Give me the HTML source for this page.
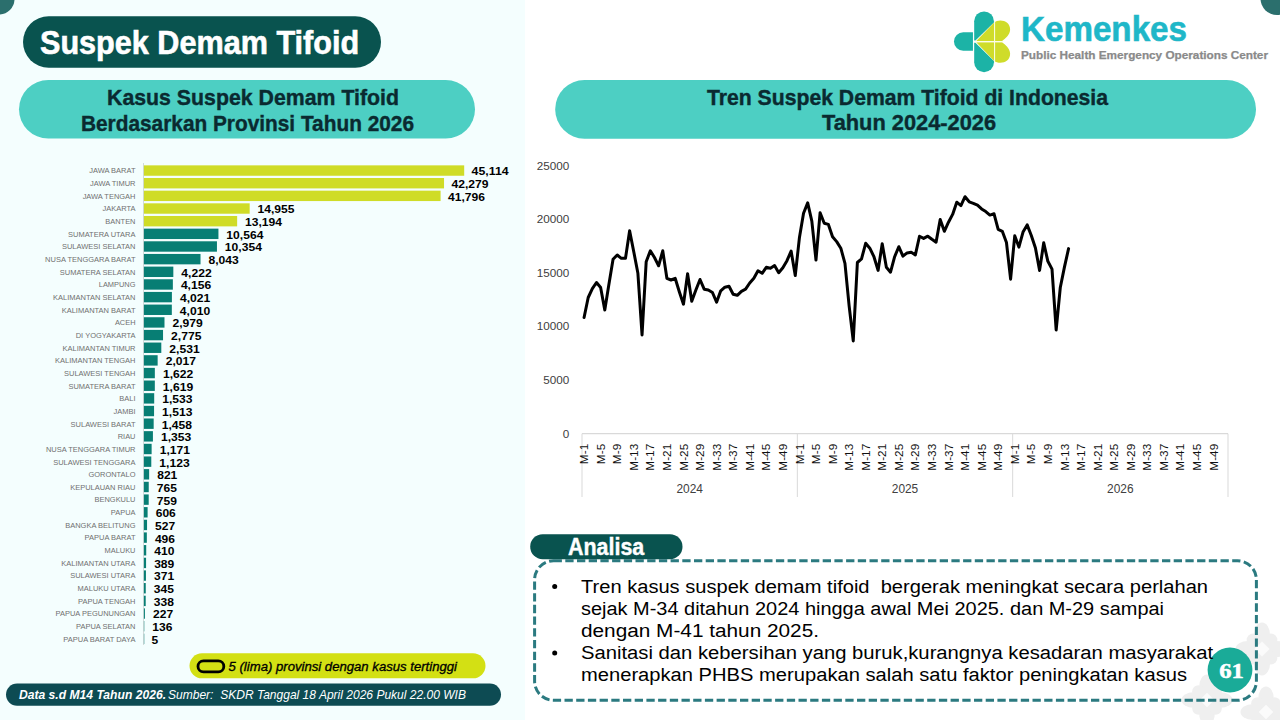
<!DOCTYPE html>
<html><head><meta charset="utf-8"><title>Suspek Demam Tifoid</title>
<style>
*{margin:0;padding:0}
html,body{width:1280px;height:720px;overflow:hidden;background:#fff}
svg{position:absolute;left:0;top:0;display:block}
</style></head><body>
<svg width="1280" height="720" viewBox="0 0 1280 720">
<rect x="0" y="0" width="525" height="720" fill="#f4fefe"/>
<circle cx="-1" cy="-1" r="15.5" fill="#2b6f6d"/>
<circle cx="1277" cy="-1.5" r="16.5" fill="#2b6f6d"/>
<g fill="#efefef"><ellipse cx="1262.0" cy="635.0" rx="8.1" ry="12.4"/><ellipse cx="1276.0" cy="649.0" rx="12.4" ry="8.1"/><ellipse cx="1262.0" cy="663.0" rx="8.1" ry="12.4"/><ellipse cx="1248.0" cy="649.0" rx="12.4" ry="8.1"/><circle cx="1270.9" cy="640.1" r="6.5"/><circle cx="1270.9" cy="657.9" r="6.5"/><circle cx="1253.1" cy="657.9" r="6.5"/><circle cx="1253.1" cy="640.1" r="6.5"/></g><path d="M1262,641.44 L1269.56,649 L1262,656.56 L1254.44,649 Z" fill="#fbfbfb"/><g fill="#efefef"><ellipse cx="1207.0" cy="686.5" rx="7.8" ry="12.0"/><ellipse cx="1220.5" cy="700.0" rx="12.0" ry="7.8"/><ellipse cx="1207.0" cy="713.5" rx="7.8" ry="12.0"/><ellipse cx="1193.5" cy="700.0" rx="12.0" ry="7.8"/><circle cx="1215.6" cy="691.4" r="6.2"/><circle cx="1215.6" cy="708.6" r="6.2"/><circle cx="1198.4" cy="708.6" r="6.2"/><circle cx="1198.4" cy="691.4" r="6.2"/></g><path d="M1207,692.72 L1214.28,700 L1207,707.28 L1199.72,700 Z" fill="#fbfbfb"/><g fill="#efefef"><ellipse cx="1266.0" cy="698.5" rx="7.8" ry="12.0"/><ellipse cx="1279.5" cy="712.0" rx="12.0" ry="7.8"/><ellipse cx="1266.0" cy="725.5" rx="7.8" ry="12.0"/><ellipse cx="1252.5" cy="712.0" rx="12.0" ry="7.8"/><circle cx="1274.6" cy="703.4" r="6.2"/><circle cx="1274.6" cy="720.6" r="6.2"/><circle cx="1257.4" cy="720.6" r="6.2"/><circle cx="1257.4" cy="703.4" r="6.2"/></g><path d="M1266,704.72 L1273.28,712 L1266,719.28 L1258.72,712 Z" fill="#fbfbfb"/>
<rect x="23" y="16.3" width="358" height="51.4" rx="25.7" fill="#09534f"/>
<text x="40.00" y="53.90" font-size="32.6" font-weight="bold" font-style="normal" fill="#fff" text-anchor="start" textLength="319.10" lengthAdjust="spacingAndGlyphs" font-family="&quot;Liberation Sans&quot;, Arial, sans-serif" stroke="#fff" stroke-width="0.6">Suspek Demam Tifoid</text>
<rect x="19" y="80" width="456" height="58.6" rx="29.3" fill="#4dcfc3"/>
<text x="107.00" y="104.70" font-size="22.6" font-weight="bold" font-style="normal" fill="#0a2a30" text-anchor="start" textLength="292.00" lengthAdjust="spacingAndGlyphs" font-family="&quot;Liberation Sans&quot;, Arial, sans-serif" stroke="#0a2a30" stroke-width="0.4">Kasus Suspek Demam Tifoid</text>
<text x="81.00" y="130.80" font-size="22.6" font-weight="bold" font-style="normal" fill="#0a2a30" text-anchor="start" textLength="333.00" lengthAdjust="spacingAndGlyphs" font-family="&quot;Liberation Sans&quot;, Arial, sans-serif" stroke="#0a2a30" stroke-width="0.4">Berdasarkan Provinsi Tahun 2026</text>
<rect x="555.2" y="80" width="700.8" height="58.7" rx="29.3" fill="#4dcfc3"/>
<text x="707.00" y="104.50" font-size="22.6" font-weight="bold" font-style="normal" fill="#0a2a30" text-anchor="start" textLength="401.00" lengthAdjust="spacingAndGlyphs" font-family="&quot;Liberation Sans&quot;, Arial, sans-serif" stroke="#0a2a30" stroke-width="0.4">Tren Suspek Demam Tifoid di Indonesia</text>
<text x="822.00" y="130.40" font-size="22.6" font-weight="bold" font-style="normal" fill="#0a2a30" text-anchor="start" textLength="174.00" lengthAdjust="spacingAndGlyphs" font-family="&quot;Liberation Sans&quot;, Arial, sans-serif" stroke="#0a2a30" stroke-width="0.4">Tahun 2024-2026</text>
<g transform="translate(945,5) scale(0.10417)">
 <path d="M268,262 H175 A89,89 0 0 0 175,440 H268 Z" fill="#1cb3a6"/>
 <path d="M280,157 A95,95 0 0 1 470,157 L470,168 L292,340 L280,340 Z" fill="#1cb3a6"/>
 <path d="M280,362 L292,362 L470,538 L470,550 A95,95 0 0 1 280,550 Z" fill="#1cb3a6"/>
 <path d="M300,346 L470,170 C520,128 628,150 625,238 C622,292 578,322 548,346 Z" fill="#cfdc2a"/>
 <path d="M300,358 L470,534 C520,576 628,554 625,466 C622,412 578,382 548,358 Z" fill="#cfdc2a"/>
 <line x1="476" y1="150" x2="476" y2="560" stroke="#fbfde8" stroke-width="10"/>
 <line x1="290" y1="352" x2="560" y2="352" stroke="#fbfde8" stroke-width="10"/>
</g>
<text x="1021.00" y="40.70" font-size="35" font-weight="bold" font-style="normal" fill="#1fb7c8" text-anchor="start" textLength="166.00" lengthAdjust="spacingAndGlyphs" font-family="&quot;Liberation Sans&quot;, Arial, sans-serif" stroke="#1fb7c8" stroke-width="0.6">Kemenkes</text>
<text x="1021.00" y="58.90" font-size="10.9" font-weight="bold" font-style="normal" fill="#8a8a8a" text-anchor="start" textLength="247.00" lengthAdjust="spacingAndGlyphs" font-family="&quot;Liberation Sans&quot;, Arial, sans-serif" stroke="#8a8a8a" stroke-width="0.25">Public Health Emergency Operations Center</text>
<line x1="143.5" y1="163" x2="143.5" y2="645" stroke="#c8d0d0" stroke-width="0.8"/>
<rect x="143.9" y="165.35" width="320.30" height="10.4" fill="#cfdc27"/>
<text x="135.50" y="173.40" font-size="8.0" font-weight="normal" font-style="normal" fill="#707070" text-anchor="end" textLength="46.27" lengthAdjust="spacingAndGlyphs" font-family="&quot;Liberation Sans&quot;, Arial, sans-serif">JAWA BARAT</text>
<text x="471.62" y="175.45" font-size="10.8" font-weight="bold" font-style="normal" fill="#000" text-anchor="start" textLength="37.00" lengthAdjust="spacingAndGlyphs" font-family="&quot;Liberation Sans&quot;, Arial, sans-serif">45,114</text>
<rect x="143.9" y="178.01" width="300.13" height="10.4" fill="#cfdc27"/>
<text x="135.50" y="186.06" font-size="8.0" font-weight="normal" font-style="normal" fill="#707070" text-anchor="end" textLength="45.47" lengthAdjust="spacingAndGlyphs" font-family="&quot;Liberation Sans&quot;, Arial, sans-serif">JAWA TIMUR</text>
<text x="451.50" y="188.11" font-size="10.8" font-weight="bold" font-style="normal" fill="#000" text-anchor="start" textLength="37.00" lengthAdjust="spacingAndGlyphs" font-family="&quot;Liberation Sans&quot;, Arial, sans-serif">42,279</text>
<rect x="143.9" y="190.66" width="296.69" height="10.4" fill="#cfdc27"/>
<text x="135.50" y="198.71" font-size="8.0" font-weight="normal" font-style="normal" fill="#707070" text-anchor="end" textLength="52.86" lengthAdjust="spacingAndGlyphs" font-family="&quot;Liberation Sans&quot;, Arial, sans-serif">JAWA TENGAH</text>
<text x="448.07" y="200.76" font-size="10.8" font-weight="bold" font-style="normal" fill="#000" text-anchor="start" textLength="37.00" lengthAdjust="spacingAndGlyphs" font-family="&quot;Liberation Sans&quot;, Arial, sans-serif">41,796</text>
<rect x="143.9" y="203.32" width="105.77" height="10.4" fill="#cfdc27"/>
<text x="135.50" y="211.37" font-size="8.0" font-weight="normal" font-style="normal" fill="#707070" text-anchor="end" textLength="32.89" lengthAdjust="spacingAndGlyphs" font-family="&quot;Liberation Sans&quot;, Arial, sans-serif">JAKARTA</text>
<text x="257.55" y="213.42" font-size="10.8" font-weight="bold" font-style="normal" fill="#000" text-anchor="start" textLength="37.00" lengthAdjust="spacingAndGlyphs" font-family="&quot;Liberation Sans&quot;, Arial, sans-serif">14,955</text>
<rect x="143.9" y="215.98" width="93.25" height="10.4" fill="#cfdc27"/>
<text x="135.50" y="224.03" font-size="8.0" font-weight="normal" font-style="normal" fill="#707070" text-anchor="end" textLength="30.16" lengthAdjust="spacingAndGlyphs" font-family="&quot;Liberation Sans&quot;, Arial, sans-serif">BANTEN</text>
<text x="245.05" y="226.08" font-size="10.8" font-weight="bold" font-style="normal" fill="#000" text-anchor="start" textLength="37.00" lengthAdjust="spacingAndGlyphs" font-family="&quot;Liberation Sans&quot;, Arial, sans-serif">13,194</text>
<rect x="143.9" y="228.64" width="74.54" height="10.4" fill="#077e74"/>
<text x="135.50" y="236.69" font-size="8.0" font-weight="normal" font-style="normal" fill="#707070" text-anchor="end" textLength="67.43" lengthAdjust="spacingAndGlyphs" font-family="&quot;Liberation Sans&quot;, Arial, sans-serif">SUMATERA UTARA</text>
<text x="226.38" y="238.74" font-size="10.8" font-weight="bold" font-style="normal" fill="#000" text-anchor="start" textLength="37.00" lengthAdjust="spacingAndGlyphs" font-family="&quot;Liberation Sans&quot;, Arial, sans-serif">10,564</text>
<rect x="143.9" y="241.29" width="73.05" height="10.4" fill="#077e74"/>
<text x="135.50" y="249.34" font-size="8.0" font-weight="normal" font-style="normal" fill="#707070" text-anchor="end" textLength="73.56" lengthAdjust="spacingAndGlyphs" font-family="&quot;Liberation Sans&quot;, Arial, sans-serif">SULAWESI SELATAN</text>
<text x="224.89" y="251.39" font-size="10.8" font-weight="bold" font-style="normal" fill="#000" text-anchor="start" textLength="37.00" lengthAdjust="spacingAndGlyphs" font-family="&quot;Liberation Sans&quot;, Arial, sans-serif">10,354</text>
<rect x="143.9" y="253.95" width="56.61" height="10.4" fill="#077e74"/>
<text x="135.50" y="262.00" font-size="8.0" font-weight="normal" font-style="normal" fill="#707070" text-anchor="end" textLength="90.41" lengthAdjust="spacingAndGlyphs" font-family="&quot;Liberation Sans&quot;, Arial, sans-serif">NUSA TENGGARA BARAT</text>
<text x="208.49" y="264.05" font-size="10.8" font-weight="bold" font-style="normal" fill="#000" text-anchor="start" textLength="30.30" lengthAdjust="spacingAndGlyphs" font-family="&quot;Liberation Sans&quot;, Arial, sans-serif">8,043</text>
<rect x="143.9" y="266.61" width="29.43" height="10.4" fill="#077e74"/>
<text x="135.50" y="274.66" font-size="8.0" font-weight="normal" font-style="normal" fill="#707070" text-anchor="end" textLength="75.69" lengthAdjust="spacingAndGlyphs" font-family="&quot;Liberation Sans&quot;, Arial, sans-serif">SUMATERA SELATAN</text>
<text x="181.37" y="276.71" font-size="10.8" font-weight="bold" font-style="normal" fill="#000" text-anchor="start" textLength="30.30" lengthAdjust="spacingAndGlyphs" font-family="&quot;Liberation Sans&quot;, Arial, sans-serif">4,222</text>
<rect x="143.9" y="279.26" width="28.96" height="10.4" fill="#077e74"/>
<text x="135.50" y="287.31" font-size="8.0" font-weight="normal" font-style="normal" fill="#707070" text-anchor="end" textLength="36.75" lengthAdjust="spacingAndGlyphs" font-family="&quot;Liberation Sans&quot;, Arial, sans-serif">LAMPUNG</text>
<text x="180.90" y="289.36" font-size="10.8" font-weight="bold" font-style="normal" fill="#000" text-anchor="start" textLength="30.30" lengthAdjust="spacingAndGlyphs" font-family="&quot;Liberation Sans&quot;, Arial, sans-serif">4,156</text>
<rect x="143.9" y="291.92" width="28.00" height="10.4" fill="#077e74"/>
<text x="135.50" y="299.97" font-size="8.0" font-weight="normal" font-style="normal" fill="#707070" text-anchor="end" textLength="82.48" lengthAdjust="spacingAndGlyphs" font-family="&quot;Liberation Sans&quot;, Arial, sans-serif">KALIMANTAN SELATAN</text>
<text x="179.94" y="302.02" font-size="10.8" font-weight="bold" font-style="normal" fill="#000" text-anchor="start" textLength="30.30" lengthAdjust="spacingAndGlyphs" font-family="&quot;Liberation Sans&quot;, Arial, sans-serif">4,021</text>
<rect x="143.9" y="304.58" width="27.92" height="10.4" fill="#077e74"/>
<text x="135.50" y="312.63" font-size="8.0" font-weight="normal" font-style="normal" fill="#707070" text-anchor="end" textLength="73.83" lengthAdjust="spacingAndGlyphs" font-family="&quot;Liberation Sans&quot;, Arial, sans-serif">KALIMANTAN BARAT</text>
<text x="179.86" y="314.68" font-size="10.8" font-weight="bold" font-style="normal" fill="#000" text-anchor="start" textLength="30.30" lengthAdjust="spacingAndGlyphs" font-family="&quot;Liberation Sans&quot;, Arial, sans-serif">4,010</text>
<rect x="143.9" y="317.23" width="20.59" height="10.4" fill="#077e74"/>
<text x="135.50" y="325.28" font-size="8.0" font-weight="normal" font-style="normal" fill="#707070" text-anchor="end" textLength="20.58" lengthAdjust="spacingAndGlyphs" font-family="&quot;Liberation Sans&quot;, Arial, sans-serif">ACEH</text>
<text x="172.54" y="327.33" font-size="10.8" font-weight="bold" font-style="normal" fill="#000" text-anchor="start" textLength="30.30" lengthAdjust="spacingAndGlyphs" font-family="&quot;Liberation Sans&quot;, Arial, sans-serif">2,979</text>
<rect x="143.9" y="329.89" width="19.14" height="10.4" fill="#077e74"/>
<text x="135.50" y="337.94" font-size="8.0" font-weight="normal" font-style="normal" fill="#707070" text-anchor="end" textLength="59.79" lengthAdjust="spacingAndGlyphs" font-family="&quot;Liberation Sans&quot;, Arial, sans-serif">DI YOGYAKARTA</text>
<text x="171.10" y="339.99" font-size="10.8" font-weight="bold" font-style="normal" fill="#000" text-anchor="start" textLength="30.30" lengthAdjust="spacingAndGlyphs" font-family="&quot;Liberation Sans&quot;, Arial, sans-serif">2,775</text>
<rect x="143.9" y="342.55" width="17.40" height="10.4" fill="#077e74"/>
<text x="135.50" y="350.60" font-size="8.0" font-weight="normal" font-style="normal" fill="#707070" text-anchor="end" textLength="73.03" lengthAdjust="spacingAndGlyphs" font-family="&quot;Liberation Sans&quot;, Arial, sans-serif">KALIMANTAN TIMUR</text>
<text x="169.37" y="352.65" font-size="10.8" font-weight="bold" font-style="normal" fill="#000" text-anchor="start" textLength="30.30" lengthAdjust="spacingAndGlyphs" font-family="&quot;Liberation Sans&quot;, Arial, sans-serif">2,531</text>
<rect x="143.9" y="355.20" width="13.75" height="10.4" fill="#077e74"/>
<text x="135.50" y="363.25" font-size="8.0" font-weight="normal" font-style="normal" fill="#707070" text-anchor="end" textLength="80.42" lengthAdjust="spacingAndGlyphs" font-family="&quot;Liberation Sans&quot;, Arial, sans-serif">KALIMANTAN TENGAH</text>
<text x="165.72" y="365.30" font-size="10.8" font-weight="bold" font-style="normal" fill="#000" text-anchor="start" textLength="30.30" lengthAdjust="spacingAndGlyphs" font-family="&quot;Liberation Sans&quot;, Arial, sans-serif">2,017</text>
<rect x="143.9" y="367.86" width="10.94" height="10.4" fill="#077e74"/>
<text x="135.50" y="375.91" font-size="8.0" font-weight="normal" font-style="normal" fill="#707070" text-anchor="end" textLength="71.50" lengthAdjust="spacingAndGlyphs" font-family="&quot;Liberation Sans&quot;, Arial, sans-serif">SULAWESI TENGAH</text>
<text x="162.91" y="377.96" font-size="10.8" font-weight="bold" font-style="normal" fill="#000" text-anchor="start" textLength="30.30" lengthAdjust="spacingAndGlyphs" font-family="&quot;Liberation Sans&quot;, Arial, sans-serif">1,622</text>
<rect x="143.9" y="380.52" width="10.92" height="10.4" fill="#077e74"/>
<text x="135.50" y="388.57" font-size="8.0" font-weight="normal" font-style="normal" fill="#707070" text-anchor="end" textLength="67.04" lengthAdjust="spacingAndGlyphs" font-family="&quot;Liberation Sans&quot;, Arial, sans-serif">SUMATERA BARAT</text>
<text x="162.89" y="390.62" font-size="10.8" font-weight="bold" font-style="normal" fill="#000" text-anchor="start" textLength="30.30" lengthAdjust="spacingAndGlyphs" font-family="&quot;Liberation Sans&quot;, Arial, sans-serif">1,619</text>
<rect x="143.9" y="393.18" width="10.30" height="10.4" fill="#077e74"/>
<text x="135.50" y="401.23" font-size="8.0" font-weight="normal" font-style="normal" fill="#707070" text-anchor="end" textLength="16.19" lengthAdjust="spacingAndGlyphs" font-family="&quot;Liberation Sans&quot;, Arial, sans-serif">BALI</text>
<text x="162.28" y="403.28" font-size="10.8" font-weight="bold" font-style="normal" fill="#000" text-anchor="start" textLength="30.30" lengthAdjust="spacingAndGlyphs" font-family="&quot;Liberation Sans&quot;, Arial, sans-serif">1,533</text>
<rect x="143.9" y="405.83" width="10.16" height="10.4" fill="#077e74"/>
<text x="135.50" y="413.88" font-size="8.0" font-weight="normal" font-style="normal" fill="#707070" text-anchor="end" textLength="21.97" lengthAdjust="spacingAndGlyphs" font-family="&quot;Liberation Sans&quot;, Arial, sans-serif">JAMBI</text>
<text x="162.14" y="415.93" font-size="10.8" font-weight="bold" font-style="normal" fill="#000" text-anchor="start" textLength="30.30" lengthAdjust="spacingAndGlyphs" font-family="&quot;Liberation Sans&quot;, Arial, sans-serif">1,513</text>
<rect x="143.9" y="418.49" width="9.77" height="10.4" fill="#077e74"/>
<text x="135.50" y="426.54" font-size="8.0" font-weight="normal" font-style="normal" fill="#707070" text-anchor="end" textLength="64.91" lengthAdjust="spacingAndGlyphs" font-family="&quot;Liberation Sans&quot;, Arial, sans-serif">SULAWESI BARAT</text>
<text x="161.75" y="428.59" font-size="10.8" font-weight="bold" font-style="normal" fill="#000" text-anchor="start" textLength="30.30" lengthAdjust="spacingAndGlyphs" font-family="&quot;Liberation Sans&quot;, Arial, sans-serif">1,458</text>
<rect x="143.9" y="431.15" width="9.02" height="10.4" fill="#077e74"/>
<text x="135.50" y="439.20" font-size="8.0" font-weight="normal" font-style="normal" fill="#707070" text-anchor="end" textLength="17.79" lengthAdjust="spacingAndGlyphs" font-family="&quot;Liberation Sans&quot;, Arial, sans-serif">RIAU</text>
<text x="161.00" y="441.25" font-size="10.8" font-weight="bold" font-style="normal" fill="#000" text-anchor="start" textLength="30.30" lengthAdjust="spacingAndGlyphs" font-family="&quot;Liberation Sans&quot;, Arial, sans-serif">1,353</text>
<rect x="143.9" y="443.80" width="7.73" height="10.4" fill="#077e74"/>
<text x="135.50" y="451.85" font-size="8.0" font-weight="normal" font-style="normal" fill="#707070" text-anchor="end" textLength="89.60" lengthAdjust="spacingAndGlyphs" font-family="&quot;Liberation Sans&quot;, Arial, sans-serif">NUSA TENGGARA TIMUR</text>
<text x="159.71" y="453.90" font-size="10.8" font-weight="bold" font-style="normal" fill="#000" text-anchor="start" textLength="30.30" lengthAdjust="spacingAndGlyphs" font-family="&quot;Liberation Sans&quot;, Arial, sans-serif">1,171</text>
<rect x="143.9" y="456.46" width="7.39" height="10.4" fill="#077e74"/>
<text x="135.50" y="464.51" font-size="8.0" font-weight="normal" font-style="normal" fill="#707070" text-anchor="end" textLength="82.29" lengthAdjust="spacingAndGlyphs" font-family="&quot;Liberation Sans&quot;, Arial, sans-serif">SULAWESI TENGGARA</text>
<text x="159.37" y="466.56" font-size="10.8" font-weight="bold" font-style="normal" fill="#000" text-anchor="start" textLength="30.30" lengthAdjust="spacingAndGlyphs" font-family="&quot;Liberation Sans&quot;, Arial, sans-serif">1,123</text>
<rect x="143.9" y="469.12" width="5.24" height="10.4" fill="#077e74"/>
<text x="135.50" y="477.17" font-size="8.0" font-weight="normal" font-style="normal" fill="#707070" text-anchor="end" textLength="47.01" lengthAdjust="spacingAndGlyphs" font-family="&quot;Liberation Sans&quot;, Arial, sans-serif">GORONTALO</text>
<text x="157.23" y="479.22" font-size="10.8" font-weight="bold" font-style="normal" fill="#000" text-anchor="start" textLength="20.10" lengthAdjust="spacingAndGlyphs" font-family="&quot;Liberation Sans&quot;, Arial, sans-serif">821</text>
<rect x="143.9" y="481.78" width="4.84" height="10.4" fill="#077e74"/>
<text x="135.50" y="489.83" font-size="8.0" font-weight="normal" font-style="normal" fill="#707070" text-anchor="end" textLength="65.32" lengthAdjust="spacingAndGlyphs" font-family="&quot;Liberation Sans&quot;, Arial, sans-serif">KEPULAUAN RIAU</text>
<text x="156.83" y="491.88" font-size="10.8" font-weight="bold" font-style="normal" fill="#000" text-anchor="start" textLength="20.10" lengthAdjust="spacingAndGlyphs" font-family="&quot;Liberation Sans&quot;, Arial, sans-serif">765</text>
<rect x="143.9" y="494.43" width="4.80" height="10.4" fill="#077e74"/>
<text x="135.50" y="502.48" font-size="8.0" font-weight="normal" font-style="normal" fill="#707070" text-anchor="end" textLength="40.95" lengthAdjust="spacingAndGlyphs" font-family="&quot;Liberation Sans&quot;, Arial, sans-serif">BENGKULU</text>
<text x="156.79" y="504.53" font-size="10.8" font-weight="bold" font-style="normal" fill="#000" text-anchor="start" textLength="20.10" lengthAdjust="spacingAndGlyphs" font-family="&quot;Liberation Sans&quot;, Arial, sans-serif">759</text>
<rect x="143.9" y="507.09" width="3.71" height="10.4" fill="#077e74"/>
<text x="135.50" y="515.14" font-size="8.0" font-weight="normal" font-style="normal" fill="#707070" text-anchor="end" textLength="24.64" lengthAdjust="spacingAndGlyphs" font-family="&quot;Liberation Sans&quot;, Arial, sans-serif">PAPUA</text>
<text x="155.70" y="517.19" font-size="10.8" font-weight="bold" font-style="normal" fill="#000" text-anchor="start" textLength="20.10" lengthAdjust="spacingAndGlyphs" font-family="&quot;Liberation Sans&quot;, Arial, sans-serif">606</text>
<rect x="143.9" y="519.75" width="3.15" height="10.4" fill="#077e74"/>
<text x="135.50" y="527.80" font-size="8.0" font-weight="normal" font-style="normal" fill="#707070" text-anchor="end" textLength="70.32" lengthAdjust="spacingAndGlyphs" font-family="&quot;Liberation Sans&quot;, Arial, sans-serif">BANGKA BELITUNG</text>
<text x="155.14" y="529.85" font-size="10.8" font-weight="bold" font-style="normal" fill="#000" text-anchor="start" textLength="20.10" lengthAdjust="spacingAndGlyphs" font-family="&quot;Liberation Sans&quot;, Arial, sans-serif">527</text>
<rect x="143.9" y="532.40" width="2.93" height="10.4" fill="#077e74"/>
<text x="135.50" y="540.45" font-size="8.0" font-weight="normal" font-style="normal" fill="#707070" text-anchor="end" textLength="50.88" lengthAdjust="spacingAndGlyphs" font-family="&quot;Liberation Sans&quot;, Arial, sans-serif">PAPUA BARAT</text>
<text x="154.92" y="542.50" font-size="10.8" font-weight="bold" font-style="normal" fill="#000" text-anchor="start" textLength="20.10" lengthAdjust="spacingAndGlyphs" font-family="&quot;Liberation Sans&quot;, Arial, sans-serif">496</text>
<rect x="143.9" y="545.06" width="2.32" height="10.4" fill="#077e74"/>
<text x="135.50" y="553.11" font-size="8.0" font-weight="normal" font-style="normal" fill="#707070" text-anchor="end" textLength="30.97" lengthAdjust="spacingAndGlyphs" font-family="&quot;Liberation Sans&quot;, Arial, sans-serif">MALUKU</text>
<text x="154.31" y="555.16" font-size="10.8" font-weight="bold" font-style="normal" fill="#000" text-anchor="start" textLength="20.10" lengthAdjust="spacingAndGlyphs" font-family="&quot;Liberation Sans&quot;, Arial, sans-serif">410</text>
<rect x="143.9" y="557.72" width="2.17" height="10.4" fill="#077e74"/>
<text x="135.50" y="565.77" font-size="8.0" font-weight="normal" font-style="normal" fill="#707070" text-anchor="end" textLength="74.22" lengthAdjust="spacingAndGlyphs" font-family="&quot;Liberation Sans&quot;, Arial, sans-serif">KALIMANTAN UTARA</text>
<text x="154.16" y="567.82" font-size="10.8" font-weight="bold" font-style="normal" fill="#000" text-anchor="start" textLength="20.10" lengthAdjust="spacingAndGlyphs" font-family="&quot;Liberation Sans&quot;, Arial, sans-serif">389</text>
<rect x="143.9" y="570.37" width="2.04" height="10.4" fill="#077e74"/>
<text x="135.50" y="578.42" font-size="8.0" font-weight="normal" font-style="normal" fill="#707070" text-anchor="end" textLength="65.30" lengthAdjust="spacingAndGlyphs" font-family="&quot;Liberation Sans&quot;, Arial, sans-serif">SULAWESI UTARA</text>
<text x="154.03" y="580.47" font-size="10.8" font-weight="bold" font-style="normal" fill="#000" text-anchor="start" textLength="20.10" lengthAdjust="spacingAndGlyphs" font-family="&quot;Liberation Sans&quot;, Arial, sans-serif">371</text>
<rect x="143.9" y="583.03" width="1.85" height="10.4" fill="#077e74"/>
<text x="135.50" y="591.08" font-size="8.0" font-weight="normal" font-style="normal" fill="#707070" text-anchor="end" textLength="57.98" lengthAdjust="spacingAndGlyphs" font-family="&quot;Liberation Sans&quot;, Arial, sans-serif">MALUKU UTARA</text>
<text x="153.85" y="593.13" font-size="10.8" font-weight="bold" font-style="normal" fill="#000" text-anchor="start" textLength="20.10" lengthAdjust="spacingAndGlyphs" font-family="&quot;Liberation Sans&quot;, Arial, sans-serif">345</text>
<rect x="143.9" y="595.69" width="1.80" height="10.4" fill="#077e74"/>
<text x="135.50" y="603.74" font-size="8.0" font-weight="normal" font-style="normal" fill="#707070" text-anchor="end" textLength="57.47" lengthAdjust="spacingAndGlyphs" font-family="&quot;Liberation Sans&quot;, Arial, sans-serif">PAPUA TENGAH</text>
<text x="153.80" y="605.79" font-size="10.8" font-weight="bold" font-style="normal" fill="#000" text-anchor="start" textLength="20.10" lengthAdjust="spacingAndGlyphs" font-family="&quot;Liberation Sans&quot;, Arial, sans-serif">338</text>
<rect x="143.9" y="608.35" width="1.01" height="10.4" fill="#077e74"/>
<text x="135.50" y="616.40" font-size="8.0" font-weight="normal" font-style="normal" fill="#707070" text-anchor="end" textLength="79.95" lengthAdjust="spacingAndGlyphs" font-family="&quot;Liberation Sans&quot;, Arial, sans-serif">PAPUA PEGUNUNGAN</text>
<text x="153.01" y="618.45" font-size="10.8" font-weight="bold" font-style="normal" fill="#000" text-anchor="start" textLength="20.10" lengthAdjust="spacingAndGlyphs" font-family="&quot;Liberation Sans&quot;, Arial, sans-serif">227</text>
<rect x="143.9" y="621.00" width="0.37" height="10.4" fill="#077e74"/>
<text x="135.50" y="629.05" font-size="8.0" font-weight="normal" font-style="normal" fill="#707070" text-anchor="end" textLength="59.52" lengthAdjust="spacingAndGlyphs" font-family="&quot;Liberation Sans&quot;, Arial, sans-serif">PAPUA SELATAN</text>
<text x="152.37" y="631.10" font-size="10.8" font-weight="bold" font-style="normal" fill="#000" text-anchor="start" textLength="20.10" lengthAdjust="spacingAndGlyphs" font-family="&quot;Liberation Sans&quot;, Arial, sans-serif">136</text>
<rect x="143.9" y="633.66" width="0.35" height="10.4" fill="#077e74"/>
<text x="135.50" y="641.71" font-size="8.0" font-weight="normal" font-style="normal" fill="#707070" text-anchor="end" textLength="72.23" lengthAdjust="spacingAndGlyphs" font-family="&quot;Liberation Sans&quot;, Arial, sans-serif">PAPUA BARAT DAYA</text>
<text x="151.44" y="643.76" font-size="10.8" font-weight="bold" font-style="normal" fill="#000" text-anchor="start" textLength="6.70" lengthAdjust="spacingAndGlyphs" font-family="&quot;Liberation Sans&quot;, Arial, sans-serif">5</text>
<line x1="582.0" y1="433.7" x2="1228.0" y2="433.7" stroke="#d9d9d9" stroke-width="1.2"/>
<line x1="582.00" y1="433.7" x2="582.00" y2="497" stroke="#d9d9d9" stroke-width="1"/>
<line x1="797.33" y1="433.7" x2="797.33" y2="497" stroke="#d9d9d9" stroke-width="1"/>
<line x1="1012.67" y1="433.7" x2="1012.67" y2="497" stroke="#d9d9d9" stroke-width="1"/>
<line x1="1228.00" y1="433.7" x2="1228.00" y2="497" stroke="#d9d9d9" stroke-width="1"/>
<text x="569.20" y="437.50" font-size="11.7" font-weight="normal" font-style="normal" fill="#404040" text-anchor="end" font-family="&quot;Liberation Sans&quot;, Arial, sans-serif">0</text>
<text x="569.20" y="383.96" font-size="11.7" font-weight="normal" font-style="normal" fill="#404040" text-anchor="end" font-family="&quot;Liberation Sans&quot;, Arial, sans-serif">5000</text>
<text x="569.20" y="330.42" font-size="11.7" font-weight="normal" font-style="normal" fill="#404040" text-anchor="end" font-family="&quot;Liberation Sans&quot;, Arial, sans-serif">10000</text>
<text x="569.20" y="276.88" font-size="11.7" font-weight="normal" font-style="normal" fill="#404040" text-anchor="end" font-family="&quot;Liberation Sans&quot;, Arial, sans-serif">15000</text>
<text x="569.20" y="223.34" font-size="11.7" font-weight="normal" font-style="normal" fill="#404040" text-anchor="end" font-family="&quot;Liberation Sans&quot;, Arial, sans-serif">20000</text>
<text x="569.20" y="169.80" font-size="11.7" font-weight="normal" font-style="normal" fill="#404040" text-anchor="end" font-family="&quot;Liberation Sans&quot;, Arial, sans-serif">25000</text>
<text transform="translate(588.17,443.8) rotate(-90)" font-size="11.8" fill="#111" text-anchor="end" font-family="&quot;Liberation Sans&quot;, Arial, sans-serif">M-1</text>
<text transform="translate(604.73,443.8) rotate(-90)" font-size="11.8" fill="#111" text-anchor="end" font-family="&quot;Liberation Sans&quot;, Arial, sans-serif">M-5</text>
<text transform="translate(621.30,443.8) rotate(-90)" font-size="11.8" fill="#111" text-anchor="end" font-family="&quot;Liberation Sans&quot;, Arial, sans-serif">M-9</text>
<text transform="translate(637.86,443.8) rotate(-90)" font-size="11.8" fill="#111" text-anchor="end" font-family="&quot;Liberation Sans&quot;, Arial, sans-serif">M-13</text>
<text transform="translate(654.43,443.8) rotate(-90)" font-size="11.8" fill="#111" text-anchor="end" font-family="&quot;Liberation Sans&quot;, Arial, sans-serif">M-17</text>
<text transform="translate(670.99,443.8) rotate(-90)" font-size="11.8" fill="#111" text-anchor="end" font-family="&quot;Liberation Sans&quot;, Arial, sans-serif">M-21</text>
<text transform="translate(687.56,443.8) rotate(-90)" font-size="11.8" fill="#111" text-anchor="end" font-family="&quot;Liberation Sans&quot;, Arial, sans-serif">M-25</text>
<text transform="translate(704.12,443.8) rotate(-90)" font-size="11.8" fill="#111" text-anchor="end" font-family="&quot;Liberation Sans&quot;, Arial, sans-serif">M-29</text>
<text transform="translate(720.68,443.8) rotate(-90)" font-size="11.8" fill="#111" text-anchor="end" font-family="&quot;Liberation Sans&quot;, Arial, sans-serif">M-33</text>
<text transform="translate(737.25,443.8) rotate(-90)" font-size="11.8" fill="#111" text-anchor="end" font-family="&quot;Liberation Sans&quot;, Arial, sans-serif">M-37</text>
<text transform="translate(753.81,443.8) rotate(-90)" font-size="11.8" fill="#111" text-anchor="end" font-family="&quot;Liberation Sans&quot;, Arial, sans-serif">M-41</text>
<text transform="translate(770.38,443.8) rotate(-90)" font-size="11.8" fill="#111" text-anchor="end" font-family="&quot;Liberation Sans&quot;, Arial, sans-serif">M-45</text>
<text transform="translate(786.94,443.8) rotate(-90)" font-size="11.8" fill="#111" text-anchor="end" font-family="&quot;Liberation Sans&quot;, Arial, sans-serif">M-49</text>
<text transform="translate(803.50,443.8) rotate(-90)" font-size="11.8" fill="#111" text-anchor="end" font-family="&quot;Liberation Sans&quot;, Arial, sans-serif">M-1</text>
<text transform="translate(820.07,443.8) rotate(-90)" font-size="11.8" fill="#111" text-anchor="end" font-family="&quot;Liberation Sans&quot;, Arial, sans-serif">M-5</text>
<text transform="translate(836.63,443.8) rotate(-90)" font-size="11.8" fill="#111" text-anchor="end" font-family="&quot;Liberation Sans&quot;, Arial, sans-serif">M-9</text>
<text transform="translate(853.20,443.8) rotate(-90)" font-size="11.8" fill="#111" text-anchor="end" font-family="&quot;Liberation Sans&quot;, Arial, sans-serif">M-13</text>
<text transform="translate(869.76,443.8) rotate(-90)" font-size="11.8" fill="#111" text-anchor="end" font-family="&quot;Liberation Sans&quot;, Arial, sans-serif">M-17</text>
<text transform="translate(886.32,443.8) rotate(-90)" font-size="11.8" fill="#111" text-anchor="end" font-family="&quot;Liberation Sans&quot;, Arial, sans-serif">M-21</text>
<text transform="translate(902.89,443.8) rotate(-90)" font-size="11.8" fill="#111" text-anchor="end" font-family="&quot;Liberation Sans&quot;, Arial, sans-serif">M-25</text>
<text transform="translate(919.45,443.8) rotate(-90)" font-size="11.8" fill="#111" text-anchor="end" font-family="&quot;Liberation Sans&quot;, Arial, sans-serif">M-29</text>
<text transform="translate(936.02,443.8) rotate(-90)" font-size="11.8" fill="#111" text-anchor="end" font-family="&quot;Liberation Sans&quot;, Arial, sans-serif">M-33</text>
<text transform="translate(952.58,443.8) rotate(-90)" font-size="11.8" fill="#111" text-anchor="end" font-family="&quot;Liberation Sans&quot;, Arial, sans-serif">M-37</text>
<text transform="translate(969.14,443.8) rotate(-90)" font-size="11.8" fill="#111" text-anchor="end" font-family="&quot;Liberation Sans&quot;, Arial, sans-serif">M-41</text>
<text transform="translate(985.71,443.8) rotate(-90)" font-size="11.8" fill="#111" text-anchor="end" font-family="&quot;Liberation Sans&quot;, Arial, sans-serif">M-45</text>
<text transform="translate(1002.27,443.8) rotate(-90)" font-size="11.8" fill="#111" text-anchor="end" font-family="&quot;Liberation Sans&quot;, Arial, sans-serif">M-49</text>
<text transform="translate(1018.84,443.8) rotate(-90)" font-size="11.8" fill="#111" text-anchor="end" font-family="&quot;Liberation Sans&quot;, Arial, sans-serif">M-1</text>
<text transform="translate(1035.40,443.8) rotate(-90)" font-size="11.8" fill="#111" text-anchor="end" font-family="&quot;Liberation Sans&quot;, Arial, sans-serif">M-5</text>
<text transform="translate(1051.97,443.8) rotate(-90)" font-size="11.8" fill="#111" text-anchor="end" font-family="&quot;Liberation Sans&quot;, Arial, sans-serif">M-9</text>
<text transform="translate(1068.53,443.8) rotate(-90)" font-size="11.8" fill="#111" text-anchor="end" font-family="&quot;Liberation Sans&quot;, Arial, sans-serif">M-13</text>
<text transform="translate(1085.09,443.8) rotate(-90)" font-size="11.8" fill="#111" text-anchor="end" font-family="&quot;Liberation Sans&quot;, Arial, sans-serif">M-17</text>
<text transform="translate(1101.66,443.8) rotate(-90)" font-size="11.8" fill="#111" text-anchor="end" font-family="&quot;Liberation Sans&quot;, Arial, sans-serif">M-21</text>
<text transform="translate(1118.22,443.8) rotate(-90)" font-size="11.8" fill="#111" text-anchor="end" font-family="&quot;Liberation Sans&quot;, Arial, sans-serif">M-25</text>
<text transform="translate(1134.79,443.8) rotate(-90)" font-size="11.8" fill="#111" text-anchor="end" font-family="&quot;Liberation Sans&quot;, Arial, sans-serif">M-29</text>
<text transform="translate(1151.35,443.8) rotate(-90)" font-size="11.8" fill="#111" text-anchor="end" font-family="&quot;Liberation Sans&quot;, Arial, sans-serif">M-33</text>
<text transform="translate(1167.91,443.8) rotate(-90)" font-size="11.8" fill="#111" text-anchor="end" font-family="&quot;Liberation Sans&quot;, Arial, sans-serif">M-37</text>
<text transform="translate(1184.48,443.8) rotate(-90)" font-size="11.8" fill="#111" text-anchor="end" font-family="&quot;Liberation Sans&quot;, Arial, sans-serif">M-41</text>
<text transform="translate(1201.04,443.8) rotate(-90)" font-size="11.8" fill="#111" text-anchor="end" font-family="&quot;Liberation Sans&quot;, Arial, sans-serif">M-45</text>
<text transform="translate(1217.61,443.8) rotate(-90)" font-size="11.8" fill="#111" text-anchor="end" font-family="&quot;Liberation Sans&quot;, Arial, sans-serif">M-49</text>
<text x="689.67" y="492.90" font-size="11.9" font-weight="normal" font-style="normal" fill="#404040" text-anchor="middle" font-family="&quot;Liberation Sans&quot;, Arial, sans-serif">2024</text>
<text x="905.00" y="492.90" font-size="11.9" font-weight="normal" font-style="normal" fill="#404040" text-anchor="middle" font-family="&quot;Liberation Sans&quot;, Arial, sans-serif">2025</text>
<text x="1120.33" y="492.90" font-size="11.9" font-weight="normal" font-style="normal" fill="#404040" text-anchor="middle" font-family="&quot;Liberation Sans&quot;, Arial, sans-serif">2026</text>
<polyline points="584.07,317.50 588.21,297.50 592.35,288.70 596.49,282.50 600.63,287.50 604.78,310.00 608.92,284.20 613.06,259.20 617.20,255.00 621.34,258.30 625.48,258.30 629.62,230.80 633.76,251.70 637.90,273.30 642.04,335.00 646.19,261.70 650.33,250.80 654.47,257.50 658.61,265.80 662.75,250.80 666.89,278.30 671.03,280.00 675.17,278.30 679.31,291.70 683.46,304.20 687.60,273.70 691.74,301.20 695.88,290.00 700.02,279.50 704.16,289.20 708.30,290.00 712.44,292.50 716.58,302.20 720.72,290.80 724.87,287.20 729.01,286.30 733.15,294.20 737.29,295.30 741.43,291.30 745.57,289.20 749.71,283.00 753.85,278.30 757.99,270.80 762.13,273.30 766.28,267.30 770.42,268.20 774.56,265.60 778.70,272.70 782.84,267.80 786.98,260.70 791.12,251.10 795.26,275.60 799.40,237.80 803.54,213.30 807.69,202.90 811.83,221.10 815.97,260.00 820.11,212.70 824.25,223.30 828.39,224.40 832.53,236.70 836.67,241.60 840.81,248.20 844.96,263.30 849.10,305.60 853.24,340.90 857.38,262.50 861.52,258.90 865.66,243.30 869.80,248.20 873.94,256.70 878.08,270.40 882.22,243.80 886.37,267.30 890.51,272.20 894.65,256.70 898.79,246.70 902.93,256.20 907.07,252.90 911.21,252.20 915.35,254.90 919.49,236.20 923.63,238.40 927.78,236.20 931.92,239.30 936.06,242.20 940.20,219.60 944.34,231.30 948.48,222.20 952.62,214.40 956.76,202.20 960.90,205.60 965.04,196.70 969.19,201.80 973.33,203.30 977.47,205.10 981.61,208.90 985.75,211.60 989.89,215.10 994.03,213.80 998.17,229.30 1002.31,231.30 1006.46,242.50 1010.60,279.20 1014.74,235.80 1018.88,247.10 1023.02,232.10 1027.16,224.90 1031.30,235.50 1035.44,248.00 1039.58,270.40 1043.72,242.80 1047.87,261.30 1052.01,269.10 1056.15,330.00 1060.29,287.50 1064.43,267.10 1068.57,248.60" fill="none" stroke="#000" stroke-width="3" stroke-linejoin="round" stroke-linecap="round"/>
<rect x="189.5" y="653.3" width="296" height="25" rx="12.5" fill="#d3e014"/>
<rect x="198" y="660.8" width="25.8" height="11.1" rx="5.5" fill="none" stroke="#000" stroke-width="2.8"/>
<text x="228.55" y="670.75" font-size="12.2" font-weight="normal" font-style="italic" fill="#000" text-anchor="start" textLength="228.45" lengthAdjust="spacingAndGlyphs" font-family="&quot;Liberation Sans&quot;, Arial, sans-serif" stroke="#000" stroke-width="0.3">5 (lima) provinsi dengan kasus tertinggi</text>
<rect x="6" y="683.5" width="495" height="22.2" rx="11.1" fill="#0d4b53"/>
<text x="19.00" y="699.00" font-size="12.1" font-weight="bold" font-style="italic" fill="#fff" text-anchor="start" textLength="147.00" lengthAdjust="spacingAndGlyphs" font-family="&quot;Liberation Sans&quot;, Arial, sans-serif">Data s.d M14 Tahun 2026.</text>
<text x="168.00" y="699.00" font-size="12.1" font-weight="normal" font-style="italic" fill="#fff" text-anchor="start" textLength="298.00" lengthAdjust="spacingAndGlyphs" font-family="&quot;Liberation Sans&quot;, Arial, sans-serif" xml:space="preserve">Sumber:&#160; SKDR Tanggal 18 April 2026 Pukul 22.00 WIB</text>
<rect x="534.6" y="560.7" width="721.8" height="139.6" rx="19" fill="none" stroke="#2b7a80" stroke-width="3" stroke-dasharray="8.3 3.4"/>
<rect x="530.2" y="534.2" width="152.3" height="25" rx="12.5" fill="#09534f"/>
<text x="568.00" y="554.60" font-size="23" font-weight="bold" font-style="normal" fill="#fff" text-anchor="start" textLength="76.30" lengthAdjust="spacingAndGlyphs" font-family="&quot;Liberation Sans&quot;, Arial, sans-serif" stroke="#fff" stroke-width="0.4">Analisa</text>
<circle cx="1230" cy="670" r="22.4" fill="#1aab98"/>
<text x="1219.30" y="677.90" font-size="20" font-weight="bold" font-style="normal" fill="#fff" text-anchor="start" textLength="24.60" lengthAdjust="spacingAndGlyphs" font-family="&quot;Liberation Serif&quot;, serif" stroke="#fff" stroke-width="0.5">61</text>
<text x="581.00" y="592.70" font-size="18" font-weight="normal" font-style="normal" fill="#000" text-anchor="start" textLength="627.00" lengthAdjust="spacingAndGlyphs" font-family="&quot;Liberation Sans&quot;, Arial, sans-serif">Tren kasus suspek demam tifoid&#160; bergerak meningkat secara perlahan</text>
<text x="581.00" y="614.75" font-size="18" font-weight="normal" font-style="normal" fill="#000" text-anchor="start" textLength="583.00" lengthAdjust="spacingAndGlyphs" font-family="&quot;Liberation Sans&quot;, Arial, sans-serif">sejak M-34 ditahun 2024 hingga awal Mei 2025. dan M-29 sampai</text>
<text x="581.00" y="636.80" font-size="18" font-weight="normal" font-style="normal" fill="#000" text-anchor="start" textLength="238.00" lengthAdjust="spacingAndGlyphs" font-family="&quot;Liberation Sans&quot;, Arial, sans-serif">dengan M-41 tahun 2025.</text>
<text x="581.00" y="658.85" font-size="18" font-weight="normal" font-style="normal" fill="#000" text-anchor="start" textLength="632.00" lengthAdjust="spacingAndGlyphs" font-family="&quot;Liberation Sans&quot;, Arial, sans-serif">Sanitasi dan kebersihan yang buruk,kurangnya kesadaran masyarakat</text>
<text x="581.00" y="680.90" font-size="18" font-weight="normal" font-style="normal" fill="#000" text-anchor="start" textLength="606.00" lengthAdjust="spacingAndGlyphs" font-family="&quot;Liberation Sans&quot;, Arial, sans-serif">menerapkan PHBS merupakan salah satu faktor peningkatan kasus</text>
<circle cx="554.7" cy="586.6" r="2.5" fill="#000"/>
<circle cx="554.7" cy="652.9" r="2.5" fill="#000"/>
</svg>
</body></html>
